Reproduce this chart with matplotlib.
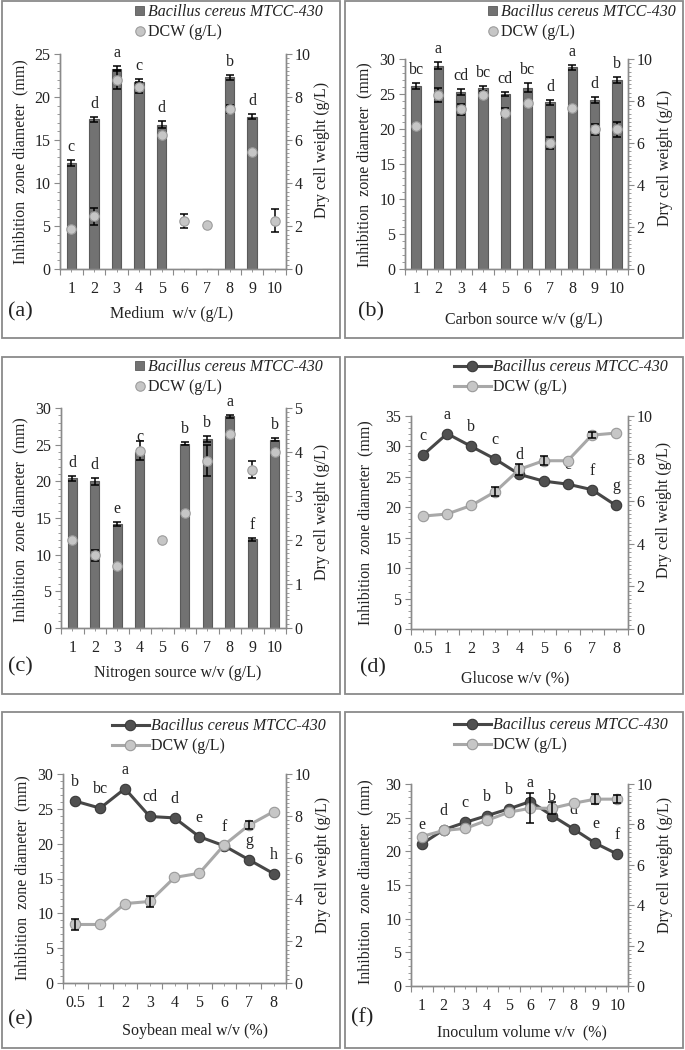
import matplotlib
matplotlib.use('Agg')  # no display in the sandbox
import matplotlib.pyplot as plt
from matplotlib.lines import Line2D
from matplotlib.patches import Rectangle, Patch
from matplotlib.ticker import MultipleLocator
import numpy as np

plt.rcParams['font.family'] = ['Liberation Serif', 'DejaVu Serif']

# ---- data ----
bar_cats = ['1', '2', '3', '4', '5', '6', '7', '8', '9', '10']

a_inhib = [12.3, 17.4, 23.3, 21.8, 16.8, 0, 0, 22.3, 17.7, 0]
a_inhib_err = [0.35, 0.3, 0.3, 0.3, 0.4, 0, 0, 0.3, 0.3, 0]
a_letters = ['c', 'd', 'a', 'c', 'd', '', '', 'b', 'd', '']
a_dcw = [1.85, 2.45, 8.8, 8.45, 6.25, 2.25, 2.05, 7.45, 5.45, 2.25]
a_dcw_err = [0, 0.4, 0.45, 0.25, 0, 0.33, 0, 0.2, 0, 0.55]

b_inhib = [26.1, 29.0, 25.3, 25.8, 25.0, 25.9, 23.8, 28.8, 24.1, 27.0]
b_inhib_err = [0.4, 0.5, 0.4, 0.4, 0.25, 0.6, 0.4, 0.4, 0.4, 0.4]
b_letters = ['bc', 'a', 'cd', 'bc', 'cd', 'bc', 'd', 'a', 'd', 'b']
b_dcw = [6.8, 8.3, 7.6, 8.3, 7.45, 7.9, 6.0, 7.65, 6.65, 6.65]
b_dcw_err = [0, 0.33, 0.25, 0, 0.2, 0, 0.28, 0, 0.25, 0.35]

c_inhib = [20.4, 20.0, 14.2, 24.0, 0, 25.1, 25.8, 28.9, 12.1, 25.7]
c_inhib_err = [0.3, 0.5, 0.3, 0.3, 0, 0.2, 0.4, 0.2, 0.2, 0.2]
c_letters = ['d', 'd', 'e', 'c', '', 'b', 'b', 'a', 'f', 'b']
c_dcw = [2.0, 1.65, 1.42, 4.03, 2.0, 2.61, 3.8, 4.4, 3.6, 4.01]
c_dcw_err = [0, 0.12, 0, 0.22, 0, 0, 0.35, 0, 0.2, 0]

pct_cats = ['0.5', '1', '2', '3', '4', '5', '6', '7', '8']

d_inhib = [28.6, 32.1, 30.0, 27.9, 25.4, 24.3, 23.8, 22.9, 20.3]
d_inhib_err = [0, 0, 0, 0, 0, 0, 0, 0, 0]
d_letters = ['c', 'a', 'b', 'c', 'd', 'e', 'e', 'f', 'g']
d_dcw = [5.3, 5.4, 5.8, 6.45, 7.5, 7.9, 7.9, 9.1, 9.2]
d_dcw_err = [0, 0, 0, 0.2, 0.25, 0.2, 0, 0.15, 0]

e_inhib = [26.1, 25.1, 27.9, 23.9, 23.7, 21.0, 19.7, 17.7, 15.7]
e_inhib_err = [0, 0, 0, 0, 0, 0, 0, 0, 0]
e_letters = ['b', 'bc', 'a', 'cd', 'd', 'e', 'f', 'g', 'h']
e_dcw = [2.8, 2.8, 3.8, 3.9, 5.05, 5.25, 6.6, 7.55, 8.2]
e_dcw_err = [0.25, 0, 0, 0.25, 0, 0, 0, 0.2, 0]

f_inhib = [21.1, 23.2, 24.3, 25.3, 26.3, 27.4, 25.3, 23.3, 21.2, 19.6]
f_inhib_err = [0, 0, 0, 0, 0, 0.3, 0.7, 0, 0, 0]
f_letters = ['e', 'd', 'c', 'b', 'b', 'a', 'b', 'd', 'e', 'f']
f_dcw = [7.4, 7.7, 7.8, 8.2, 8.6, 8.8, 8.8, 9.05, 9.25, 9.25]
f_dcw_err = [0, 0, 0, 0, 0, 0.75, 0.3, 0, 0.25, 0.2]

W, H = 685, 1050
GRAY = '#8a8a8a'
TXT = '#222222'
BAR = '#727272'
DARK = '#505050'
LIGHT = '#c6c6c6'
LEFT_LABEL = 'Inhibition  zone diameter  (mm)'
RIGHT_LABEL = 'Dry cell weight (g/L)'
SPECIES = 'Bacillus cereus MTCC-430'

fig = plt.figure(figsize=(W / 100, H / 100), dpi=100)


def px_rect(l, r, t, b):
    return [l / W, 1 - b / H, (r - l) / W, (b - t) / H]


def ftext(x, y, s, **kw):
    fig.text(x / W, 1 - y / H, s, color=TXT, **kw)


def border(x0, y0, x1, y1):
    fig.add_artist(Rectangle((x0 / W, 1 - y1 / H), (x1 - x0) / W, (y1 - y0) / H,
                             transform=fig.transFigure, fill=False,
                             ec=GRAY, lw=1.3))


def err_bars(ax, x, vals, errs, z):
    # only draw the bars that have a visible error
    keep = [i for i, e in enumerate(errs) if e > 0]
    if not keep:
        return
    ax.errorbar([x[i] for i in keep], [vals[i] for i in keep],
                yerr=[errs[i] for i in keep], fmt='none', ecolor='black',
                elinewidth=1.1, capsize=2.6, capthick=1.1, zorder=z)


def setup_axes(rect, cats, ymax, ystep, y2max, y2step, y2minor):
    ax = fig.add_axes(px_rect(*rect))
    ax2 = ax.twinx()
    n = len(cats)
    ax.set_xlim(-0.5, n - 0.5)
    ax.set_ylim(0, ymax)
    ax2.set_ylim(0, y2max)
    ax.yaxis.set_major_locator(MultipleLocator(ystep))
    ax.yaxis.set_minor_locator(MultipleLocator(1))
    ax2.yaxis.set_major_locator(MultipleLocator(y2step))
    ax2.yaxis.set_minor_locator(MultipleLocator(y2minor))
    ax.set_xticks(np.arange(-0.5, n, 1))
    ax.set_xticklabels([])
    ax.set_xticks(range(n), cats, minor=True)
    for a in (ax, ax2):
        a.patch.set_visible(False)
        a.spines['top'].set_visible(False)
        for s in ('left', 'right', 'bottom'):
            a.spines[s].set_color(GRAY)
            a.spines[s].set_linewidth(1.0)
        a.tick_params(which='both', colors=GRAY, labelcolor=TXT, labelsize=11.5)
        a.tick_params(which='major', length=4)
        a.tick_params(which='minor', length=2)
    ax.tick_params(axis='y', pad=3)
    ax2.tick_params(axis='y', pad=2)
    ax.tick_params(axis='x', which='minor', length=2.5, pad=6, labelsize=11.5)
    return ax, ax2


def labels(txt_pos, tag, xlabel):
    (lx, ly), (rx, ry), (tx, ty), (xx, xy) = txt_pos
    ftext(lx, ly, LEFT_LABEL, rotation=90, ha='center', va='center', fontsize=11.5)
    ftext(rx, ry, RIGHT_LABEL, rotation=90, ha='center', va='center', fontsize=11.5)
    ftext(tx, ty, tag, ha='center', va='center', fontsize=16)
    ftext(xx, xy, xlabel, ha='center', va='center', fontsize=11.5)


def legend(ax, handles, x_end, y_top, line_style):
    leg = ax.legend(handles, [SPECIES, 'DCW (g/L)'], loc='upper right',
                    bbox_to_anchor=(x_end / W, 1 - y_top / H),
                    bbox_transform=fig.transFigure, frameon=False,
                    borderpad=0, borderaxespad=0, labelspacing=0.28,
                    handlelength=2.3 if line_style else 0.55,
                    handleheight=0.55, handletextpad=0.15 if line_style else 0.25,
                    fontsize=11.5)
    leg.get_texts()[0].set_fontstyle('italic')
    for t in leg.get_texts():
        t.set_color(TXT)


def bar_panel(rect, box, cats, inhib, inhib_err, letters, dcw, dcw_err,
              ymax, ystep, y2max, y2step, y2minor, txt_pos, tag, xlabel, leg_pos):
    border(*box)
    ax, ax2 = setup_axes(rect, cats, ymax, ystep, y2max, y2step, y2minor)
    x = np.arange(len(cats))
    ax.bar(x, inhib, width=0.42, color=BAR, edgecolor='#5a5a5a', lw=0.8, zorder=2)
    err_bars(ax, x, inhib, inhib_err, 3)
    for xi, v, e, s in zip(x, inhib, inhib_err, letters):
        if s:
            ax.annotate(s, (xi, v + e), xytext=(0, 13), textcoords='offset pixels',
                        ha='center', va='center', fontsize=11.5, color=TXT)
    err_bars(ax2, x, dcw, dcw_err, 3)
    ax2.plot(x, dcw, 'o', ms=6.8, mfc=LIGHT, mec='#9c9c9c', mew=0.8, zorder=4)
    h1 = Patch(fc=BAR, ec='#5a5a5a', lw=0.6)
    h2 = Line2D([], [], ls='none', marker='o', ms=6.8, mfc=LIGHT, mec='#9c9c9c', mew=0.8)
    legend(ax2, [h1, h2], leg_pos[0], leg_pos[1], False)
    labels(txt_pos, tag, xlabel)


def line_panel(rect, box, cats, inhib, inhib_err, letters, dcw, dcw_err,
               ymax, ystep, y2max, y2step, y2minor, txt_pos, tag, xlabel, leg_pos):
    border(*box)
    ax, ax2 = setup_axes(rect, cats, ymax, ystep, y2max, y2step, y2minor)
    x = np.arange(len(cats))
    err_bars(ax, x, inhib, inhib_err, 3)
    ax.plot(x, inhib, '-o', color='#474747', lw=2.2, ms=7.5, mfc=DARK,
            mec='#383838', mew=0.8, zorder=4)
    for xi, v, s in zip(x, inhib, letters):
        ax.annotate(s, (xi, v), xytext=(0, 19), textcoords='offset pixels',
                    ha='center', va='center', fontsize=11.5, color=TXT)
    ax2.plot(x, dcw, '-o', color='#a8a8a8', lw=2.2, ms=7.5, mfc=LIGHT,
             mec='#999999', mew=0.8, zorder=4)
    err_bars(ax2, x, dcw, dcw_err, 5)
    h1 = Line2D([], [], color='#474747', lw=2.2, marker='o', ms=7.5,
                mfc=DARK, mec='#383838', mew=0.8)
    h2 = Line2D([], [], color='#a8a8a8', lw=2.2, marker='o', ms=7.5,
                mfc=LIGHT, mec='#999999', mew=0.8)
    legend(ax2, [h1, h2], leg_pos[0], leg_pos[1], True)
    labels(txt_pos, tag, xlabel)


bar_panel((60, 286, 54, 269), (2, 1, 340, 338), bar_cats,
          a_inhib, a_inhib_err, a_letters, a_dcw, a_dcw_err,
          25, 5, 10, 2, 0.2,
          [(20, 162), (322, 150), (20, 312), (172, 314)], '(a)',
          'Medium  w/v (g/L)', (323, 4))

bar_panel((405, 628, 59, 269), (345, 1, 683, 338), bar_cats,
          b_inhib, b_inhib_err, b_letters, b_dcw, b_dcw_err,
          30, 5, 10, 2, 0.2,
          [(364, 165), (665, 158), (371, 312), (524, 320)], '(b)',
          'Carbon source w/v (g/L)', (676, 4))

bar_panel((61, 286, 408, 628), (2, 357, 340, 694), bar_cats,
          c_inhib, c_inhib_err, c_letters, c_dcw, c_dcw_err,
          30, 5, 5, 1, 0.1,
          [(20, 520), (322, 512), (20, 667), (178, 673)], '(c)',
          'Nitrogen source w/v (g/L)', (323, 359))

line_panel((411, 628, 416, 629), (345, 357, 683, 694), pct_cats,
           d_inhib, d_inhib_err, d_letters, d_dcw, d_dcw_err,
           35, 5, 10, 2, 0.2,
           [(365, 523), (664, 510), (373, 668), (515, 678)], '(d)',
           'Glucose w/v (%)', (668, 359))

line_panel((63, 286, 774, 983), (2, 712, 340, 1048), pct_cats,
           e_inhib, e_inhib_err, e_letters, e_dcw, e_dcw_err,
           30, 5, 10, 2, 0.2,
           [(22, 878), (323, 865), (20, 1020), (195, 1031)], '(e)',
           'Soybean meal w/v (%)', (326, 718))

line_panel((411, 628, 784, 986), (345, 712, 683, 1048), bar_cats,
           f_inhib, f_inhib_err, f_letters, f_dcw, f_dcw_err,
           30, 5, 10, 2, 0.2,
           [(365, 882), (665, 865), (362, 1018), (522, 1032)], '(f)',
           'Inoculum volume v/v  (%)', (668, 717))

fig.savefig('out.png', dpi=100)
